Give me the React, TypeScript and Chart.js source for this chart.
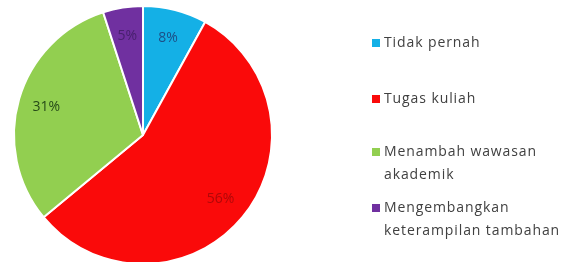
import React, { useEffect, useRef } from "react";
import { Chart, registerables } from "chart.js";

Chart.register(...registerables);

const categories: string[][] = [
  ["Tidak pernah"],
  ["Tugas kuliah"],
  ["Menambah wawasan", "akademik"],
  ["Mengembangkan", "keterampilan tambahan"],
];
const values: number[] = [8, 56, 31, 5];
const colors: string[] = ["#14b0e6", "#fa0a0a", "#92cf50", "#7030a0"];
const labelColors: string[] = ["#1d4f86", "#b00808", "#264a18", "#48206e"];
const legendGaps: number[] = [0, 56, 53, 56];

const labelPlugin = {
  id: "sliceLabels",
  afterDatasetsDraw(chart: any) {
    const ctx = chart.ctx;
    const meta = chart.getDatasetMeta(0);
    ctx.save();
    ctx.font = "14px 'Open Sans'";
    ctx.textAlign = "center";
    ctx.textBaseline = "middle";
    meta.data.forEach((arc: any, i: number) => {
      const mid = (arc.startAngle + arc.endAngle) / 2;
      const r = arc.outerRadius * 0.78;
      const x = arc.x + Math.cos(mid) * r;
      const y = arc.y + Math.sin(mid) * r;
      ctx.fillStyle = labelColors[i];
      ctx.fillText(values[i] + "%", x, y);
    });
    ctx.restore();
  },
};

const legendPlugin = {
  id: "sideLegend",
  afterDraw(chart: any) {
    const ctx = chart.ctx;
    ctx.save();
    ctx.font = "14px 'Open Sans'";
    (ctx as any).letterSpacing = "0.9px";
    ctx.textBaseline = "middle";
    ctx.textAlign = "left";
    const x0 = chart.chartArea.right + 99;
    let y = 43;
    categories.forEach((lines, i) => {
      y += legendGaps[i];
      ctx.fillStyle = colors[i];
      ctx.fillRect(x0, y - 4, 8, 8);
      ctx.fillStyle = "#404040";
      lines.forEach((t, j) => {
        ctx.fillText(t, x0 + 12, y + j * 23);
      });
    });
    ctx.restore();
  },
};

export default function App() {
  const ref = useRef<HTMLCanvasElement>(null);
  useEffect(() => {
    if (!ref.current) return;
    const chart = new Chart(ref.current, {
      type: "pie",
      data: {
        labels: categories.map((c) => c.join(" ")),
        datasets: [
          {
            data: values,
            backgroundColor: colors,
            borderColor: "#ffffff",
            borderWidth: 2,
          },
        ],
      },
      options: {
        animation: false,
        responsive: false,
        layout: { padding: { left: 13, right: 288, top: 5, bottom: 5 } },
        plugins: {
          legend: { display: false },
          tooltip: { enabled: false },
        },
      },
      plugins: [labelPlugin, legendPlugin],
    });
    return () => chart.destroy();
  }, []);
  return (
    <div style={{ position: "fixed", left: 0, top: 0, width: 561, height: 262, overflow: "hidden", background: "#fff" }}>
      <canvas ref={ref} width={561} height={270} style={{ display: "block" }} />
    </div>
  );
}
